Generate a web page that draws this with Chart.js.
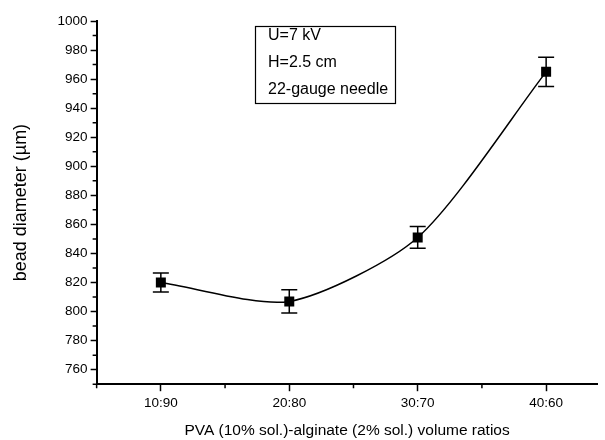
<!DOCTYPE html>
<html>
<head>
<meta charset="utf-8">
<script src="https://cdn.jsdelivr.net/npm/chart.js@4.4.1/dist/chart.umd.min.js"></script>
<style>
  html, body { margin: 0; padding: 0; background: #fff; }
</style>
</head>
<body>
<canvas id="beadChart" width="605" height="440"></canvas>
<script>
// values
const ratioLabels = ['10:90', '20:80', '30:70', '40:60'];
const beadDiameter = [820, 807, 851, 965];
const errorSize = [6.5, 8, 7.5, 10];
const yMajorTicks = [760, 780, 800, 820, 840, 860, 880, 900, 920, 940, 960, 980, 1000];
const yMinorTicks = [750, 770, 790, 810, 830, 850, 870, 890, 910, 930, 950, 970, 990];
const xMajorTicks = [1, 2, 3, 4];
const xMinorTicks = [0.5, 1.5, 2.5, 3.5];
const noteLines = ['U=7 kV', 'H=2.5 cm', '22-gauge needle'];

const FONT = 'Arial, "Liberation Sans", sans-serif';

// error bars, minor ticks and the note box
const decorations = {
    id: 'decorations',
    beforeDatasetsDraw(chart) {
        const { ctx, scales: { x, y } } = chart;
        ctx.save();
        ctx.strokeStyle = '#000';
        ctx.lineWidth = 1.5;
        ctx.beginPath();
        beadDiameter.forEach((v, i) => {
            const px = x.getPixelForValue(i + 1);
            const top = y.getPixelForValue(v + errorSize[i]);
            const bot = y.getPixelForValue(v - errorSize[i]);
            ctx.moveTo(px, top); ctx.lineTo(px, bot);
            ctx.moveTo(px - 8, top); ctx.lineTo(px + 8, top);
            ctx.moveTo(px - 8, bot); ctx.lineTo(px + 8, bot);
        });
        ctx.stroke();
        ctx.restore();
    },
    afterDatasetsDraw(chart) {
        const { ctx, scales: { x, y }, chartArea } = chart;
        ctx.save();
        ctx.strokeStyle = '#000';
        ctx.lineWidth = 1.5;
        ctx.beginPath();
        yMinorTicks.forEach(v => {
            const py = y.getPixelForValue(v);
            ctx.moveTo(chartArea.left, py);
            ctx.lineTo(chartArea.left - 4, py);
        });
        xMinorTicks.forEach(v => {
            const px = x.getPixelForValue(v);
            ctx.moveTo(px, chartArea.bottom);
            ctx.lineTo(px, chartArea.bottom + 4);
        });
        ctx.stroke();

        // note box
        ctx.lineWidth = 1.2;
        ctx.strokeRect(255.5, 26.5, 140, 77);
        ctx.fillStyle = '#000';
        ctx.font = '16px ' + FONT;
        ctx.textBaseline = 'middle';
        noteLines.forEach((t, i) => ctx.fillText(t, 268, 36 + i * 27));
        ctx.restore();
    }
};

new Chart(document.getElementById('beadChart'), {
    type: 'line',
    data: {
        datasets: [{
            data: beadDiameter.map((v, i) => ({ x: i + 1, y: v })),
            borderColor: '#000',
            borderWidth: 1.5,
            backgroundColor: '#000',
            tension: 0.25,
            pointStyle: 'rect',
            pointRadius: 6,
            pointHoverRadius: 6
        }]
    },
    options: {
        responsive: false,
        animation: false,
        devicePixelRatio: 1,
        layout: { padding: { left: 8, top: 21, right: 5, bottom: 0 } },
        plugins: { legend: { display: false }, tooltip: { enabled: false } },
        scales: {
            x: {
                type: 'linear',
                min: 0.5,
                max: 4.4,
                afterBuildTicks: scale => { scale.ticks = xMajorTicks.map(v => ({ value: v })); },
                ticks: {
                    color: '#000',
                    font: { family: FONT, size: 13.5 },
                    padding: 4,
                    maxRotation: 0,
                    callback: v => ratioLabels[v - 1]
                },
                grid: { drawOnChartArea: false, tickLength: 7, tickColor: '#000', tickWidth: 1.5 },
                border: { color: '#000', width: 2 },
                title: {
                    display: true,
                    text: 'PVA (10% sol.)-alginate (2% sol.) volume ratios',
                    color: '#000',
                    font: { family: FONT, size: 15.5 },
                    padding: { top: 6, bottom: 0 }
                }
            },
            y: {
                min: 750,
                max: 1000,
                afterBuildTicks: scale => { scale.ticks = yMajorTicks.map(v => ({ value: v })); },
                ticks: {
                    color: '#000',
                    font: { family: FONT, size: 13.5 },
                    padding: 3,
                    callback: v => String(v)
                },
                grid: { drawOnChartArea: false, tickLength: 6, tickColor: '#000', tickWidth: 1.5 },
                border: { color: '#000', width: 2 },
                title: {
                    display: true,
                    text: 'bead diameter (\u00b5m)',
                    color: '#000',
                    font: { family: FONT, size: 18 },
                    padding: { top: 2, bottom: 23 }
                }
            }
        }
    },
    plugins: [decorations]
});
</script>
</body>
</html>
